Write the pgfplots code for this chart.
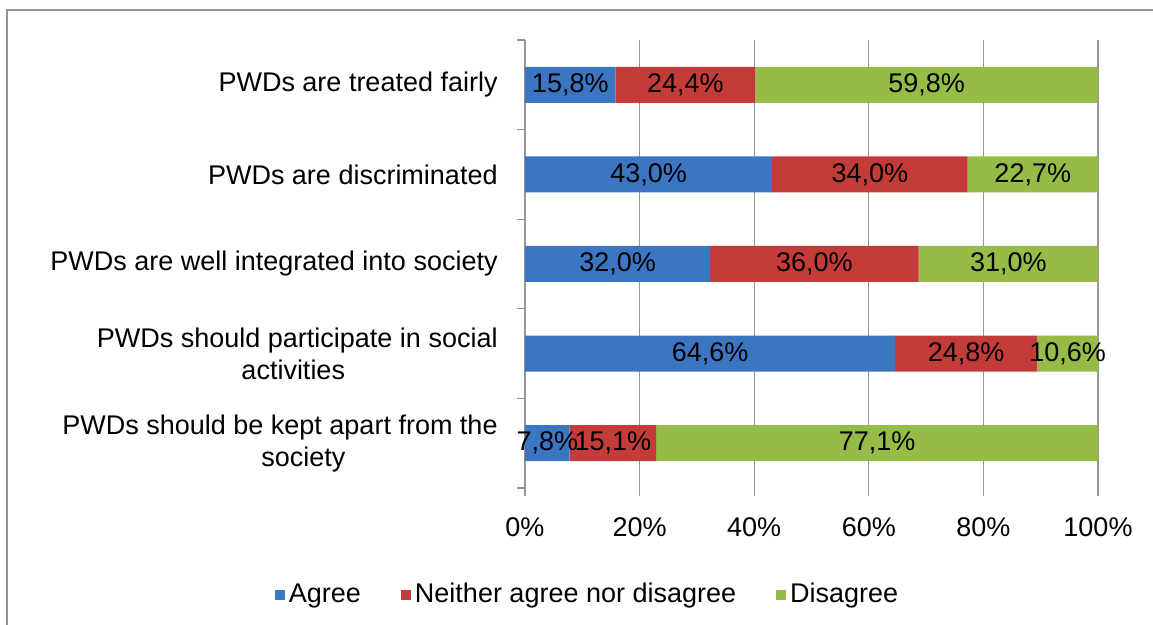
\documentclass[border=0pt]{standalone}
\usepackage{pgfplots}
\pgfplotsset{compat=1.18}
\usepackage{pgfplotstable}
\usepackage{fontspec}
\setmainfont{Liberation Sans}
\definecolor{cblue}{RGB}{60,118,194}
\definecolor{cred}{RGB}{196,60,57}
\definecolor{cgreen}{RGB}{150,188,72}
\definecolor{cgrid}{RGB}{150,150,150}
\pgfplotstableread{
y agree neither disagree
1 15.8 24.4 59.8
2 43.0 34.0 22.7
3 32.0 36.0 31.0
4 64.6 24.8 10.6
5 7.8 15.1 77.1
}\data
\begin{document}
\fontsize{13.5pt}{16pt}\selectfont
\begin{tikzpicture}
\path[use as bounding box] (0,0) rectangle (576.5pt,312.5pt);
\draw[gray!85, line width=1pt] (3.5pt,0) -- (3.5pt,307.5pt) -- (576.5pt,307.5pt);
\pgfplotsset{myaxis/.style={scale only axis, width=286.5pt, height=224pt,
  xmin=0, xmax=100, ymin=0.5, ymax=5.5, y dir=reverse,
  at={(262.5pt,68.5pt)}, anchor=south west}}
\begin{axis}[myaxis, xbar stacked, bar width=18pt,
  axis y line*=left, axis x line*=bottom,
  x axis line style={draw=none}, y axis line style={cgrid, line width=0.6pt},
  xtick={0,20,40,60,80,100},
  xticklabels={0\%,20\%,40\%,60\%,80\%,100\%},
  xmajorgrids, grid style={cgrid, line width=0.6pt},
  ytick={1,2,3,4,5},
  minor ytick={0.5,1.5,2.5,3.5,4.5,5.5},
  yticklabels={PWDs are treated fairly, PWDs are discriminated, PWDs are well integrated into society,
    {PWDs should participate in social\\\hspace*{-4pt}activities},
    {PWDs should be kept apart from the\\\hspace*{23.5pt}society}},
  yticklabel style={align=center, inner sep=0pt, xshift=-9.5pt},
  xticklabel style={inner sep=0pt, yshift=-10.5pt},
  tick align=outside, major y tick style={draw=none},
  major tick length=4pt, minor tick length=4pt,
  tick style={cgrid, line width=0.6pt},
  legend columns=3,
  legend style={draw=none, fill=none, at={(0.111,-0.239)}, anchor=center,
    /tikz/every even column/.append style={column sep=18pt},
    /tikz/every odd column/.append style={column sep=0pt}},
  legend image code/.code={\fill[#1] (0pt,-2.5pt) rectangle (5pt,2.5pt);},
]
\addplot[fill=cblue, draw=none] table[y=y, x expr={100*\thisrow{agree}/(\thisrow{agree}+\thisrow{neither}+\thisrow{disagree})}]{\data};
\addplot[fill=cred, draw=none] table[y=y, x expr={100*\thisrow{neither}/(\thisrow{agree}+\thisrow{neither}+\thisrow{disagree})}]{\data};
\addplot[fill=cgreen, draw=none] table[y=y, x expr={100*\thisrow{disagree}/(\thisrow{agree}+\thisrow{neither}+\thisrow{disagree})}]{\data};
\legend{Agree, Neither agree nor disagree, Disagree}
\end{axis}
\begin{axis}[myaxis, hide axis,
  nodes near coords={\pgfmathprintnumber[fixed, fixed zerofill, precision=1, use comma]{\pgfplotspointmeta}\%},
  every node near coord/.append style={anchor=center, inner sep=0pt, text=black},
  /pgf/number format/assume math mode=true]
\addplot[draw=none, point meta=\thisrow{agree}] table[y=y, x expr={100*(0.5*\thisrow{agree})/(\thisrow{agree}+\thisrow{neither}+\thisrow{disagree})}]{\data};
\addplot[draw=none, point meta=\thisrow{neither}] table[y=y, x expr={100*(\thisrow{agree}+0.5*\thisrow{neither})/(\thisrow{agree}+\thisrow{neither}+\thisrow{disagree})}]{\data};
\addplot[draw=none, point meta=\thisrow{disagree}] table[y=y, x expr={100*(\thisrow{agree}+\thisrow{neither}+0.5*\thisrow{disagree})/(\thisrow{agree}+\thisrow{neither}+\thisrow{disagree})}]{\data};
\end{axis}
\end{tikzpicture}
\end{document}
